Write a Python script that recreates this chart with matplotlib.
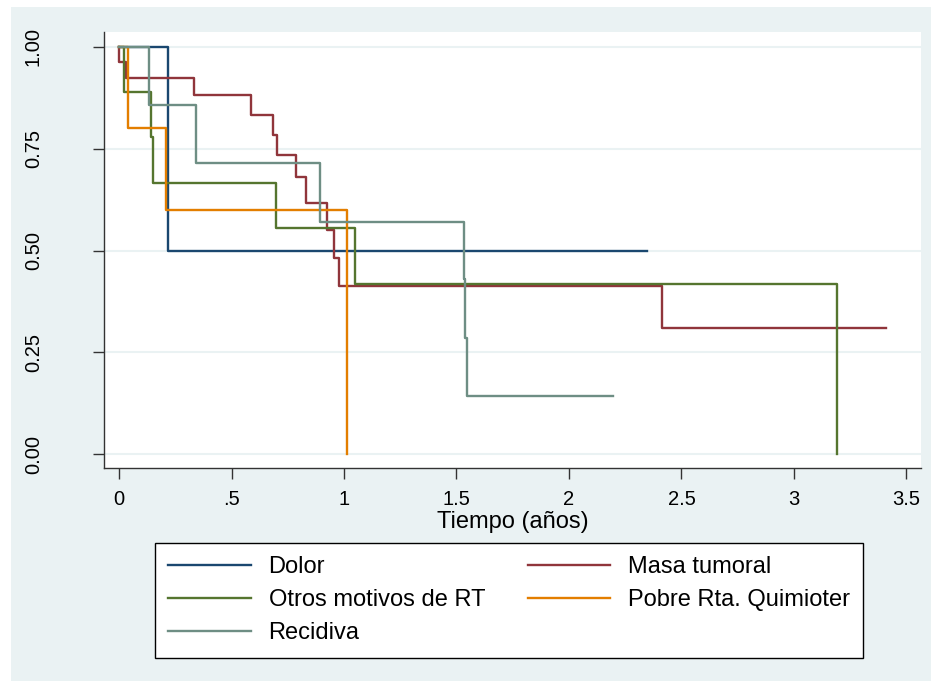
import matplotlib.pyplot as plt
from matplotlib.patches import Rectangle

plt.rcParams['font.family'] = ['Liberation Sans', 'DejaVu Sans']

# Kaplan-Meier estimates by group (time in years, survival after each step)
labels = ['Dolor', 'Masa tumoral', 'Otros motivos de RT', 'Pobre Rta. Quimioter', 'Recidiva']

dolor_t = [0, 0.216, 2.345]
dolor_s = [1.0, 0.5, 0.5]

masa_t = [0, 0.0, 0.031, 0.335, 0.587, 0.686, 0.704, 0.785, 0.831, 0.926, 0.954, 0.979, 2.412, 3.407]
masa_s = [1.0, 0.962, 0.923, 0.882, 0.832, 0.784, 0.735, 0.680, 0.617, 0.550, 0.481, 0.413, 0.309, 0.309]

otros_t = [0, 0.024, 0.141, 0.150, 0.696, 1.049, 3.191]
otros_s = [1.0, 0.889, 0.778, 0.667, 0.556, 0.417, 0.0]

pobre_t = [0, 0.041, 0.207, 1.012]
pobre_s = [1.0, 0.8, 0.6, 0.0]

recid_t = [0, 0.133, 0.341, 0.893, 1.533, 1.536, 1.547, 2.194]
recid_s = [1.0, 0.857, 0.714, 0.571, 0.429, 0.286, 0.143, 0.143]

series = [(dolor_t, dolor_s), (masa_t, masa_s), (otros_t, otros_s),
          (pobre_t, pobre_s), (recid_t, recid_s)]
colors = ['#1a476f', '#90353b', '#55752f', '#e37e00', '#6e8e84']

xticks = [0, 0.5, 1, 1.5, 2, 2.5, 3, 3.5]
xticklabels = ['0', '.5', '1', '1.5', '2', '2.5', '3', '3.5']
yticks = [0, 0.25, 0.5, 0.75, 1.0]
yticklabels = ['0.00', '0.25', '0.50', '0.75', '1.00']

W, H = 931, 681
fig = plt.figure(figsize=(W / 100, H / 100), dpi=100, facecolor='white')

# graph region (light blue) with a thin white margin on the left and top
fig.patches.append(Rectangle((11 / W, 0), 1, 1 - 7 / H, transform=fig.transFigure,
                             facecolor='#eaf2f3', edgecolor='none', zorder=-10))

ax = fig.add_axes([104 / W, 1 - 468 / H, (921 - 104) / W, (468 - 32) / H])
ax.set_facecolor('white')

handles = []
for (t, s), c, lab in zip(series, colors, labels):
    h, = ax.step(t, s, where='post', color=c, lw=1.7, label=lab)
    handles.append(h)

ax.set_xlim(-15 / 225, (921 - 119) / 225)
ax.set_ylim(-(468 - 454) / 407, 1 + (47 - 32) / 407)

ax.set_xticks(xticks)
ax.set_xticklabels(xticklabels)
ax.set_yticks(yticks)
ax.set_yticklabels(yticklabels, rotation=90, va='center')

ax.yaxis.grid(True, color='#eaf2f3', lw=1.5)
ax.set_axisbelow(True)

for side in ['top', 'right']:
    ax.spines[side].set_visible(False)
for side in ['left', 'bottom']:
    ax.spines[side].set_color('#333333')
    ax.spines[side].set_linewidth(1.0)

ax.tick_params(axis='both', direction='out', length=8, width=1, color='#333333', labelsize=14.5)
ax.tick_params(axis='y', pad=36)
ax.tick_params(axis='x', pad=8)

ax.set_xlabel('Tiempo (años)', fontsize=17, labelpad=1)

# legend filled row by row: matplotlib fills columns first, so reorder
order = [0, 2, 4, 1, 3]
leg = fig.legend([handles[i] for i in order], [labels[i] for i in order],
                 loc='upper left', bbox_to_anchor=(155 / W, 1 - 543 / H), ncol=2,
                 fontsize=17, frameon=True, fancybox=False, edgecolor='black',
                 framealpha=1, borderaxespad=0, handlelength=3.5, handletextpad=0.75,
                 columnspacing=1.8, labelspacing=0.47, borderpad=0.56)
leg.get_frame().set_linewidth(1.0)
for line in leg.get_lines():
    line.set_linewidth(1.7)

fig.savefig('out.png', dpi=100, facecolor=fig.get_facecolor())
